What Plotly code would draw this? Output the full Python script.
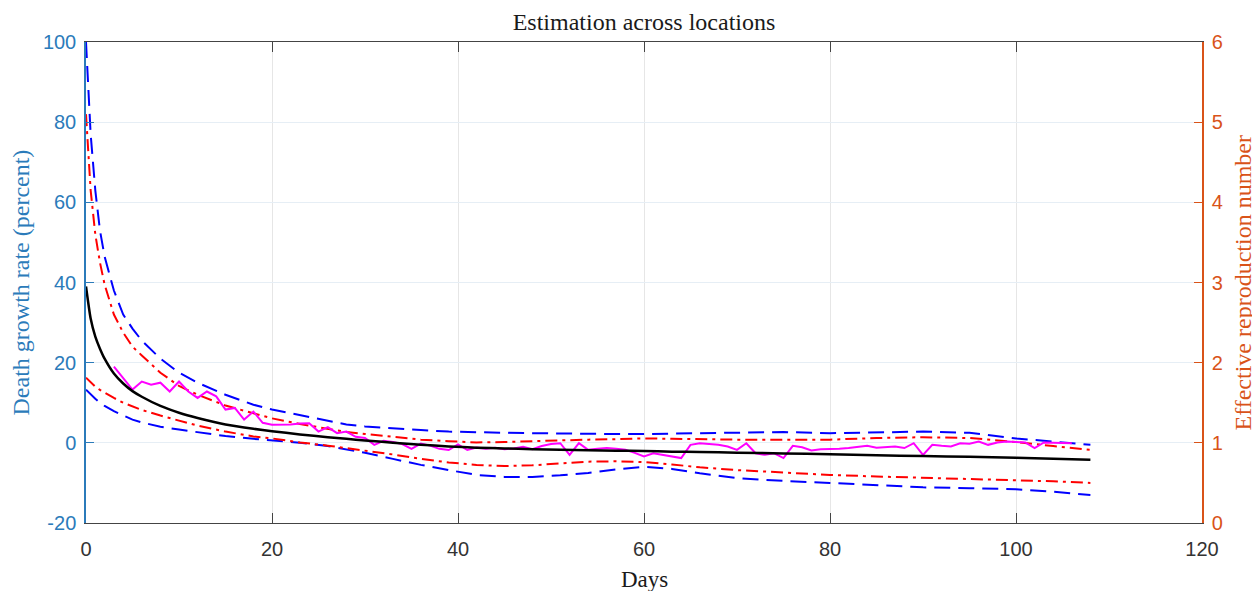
import plotly.graph_objects as go

# ---- data ----
days = [0, 0.5, 1, 1.5, 2, 3, 4, 5, 6, 8, 10, 12, 15, 18, 20, 23, 26, 28, 30, 33, 36, 39,
        42, 45, 48, 51, 54, 57, 60, 63, 66, 70, 75, 80, 85, 90, 95, 100, 104, 108]

blue_upper = [100, 77, 63, 53, 46.5, 38, 32, 28.5, 25.5, 21, 17.5, 15, 12, 9.5, 8.3, 6.9, 5.4, 4.6,
              4.1, 3.6, 3.2, 2.8, 2.6, 2.5, 2.4, 2.3, 2.2, 2.2, 2.2, 2.3, 2.4, 2.6, 2.7, 2.4, 2.6,
              2.8, 2.5, 1.1, 0.3, -0.5]

red_upper = [82, 63, 52, 45, 39.5, 32, 27.5, 24, 21.8, 17.5, 14.2, 12, 9.3, 7.3, 6.1, 4.7, 3.5, 2.7,
             2.2, 1.5, 0.8, 0.4, 0.1, 0.2, 0.4, 0.7, 0.8, 0.9, 1.1, 1.0, 0.9, 0.8, 0.8, 0.8, 1.2,
             1.4, 1.2, 0.2, -0.8, -1.75]

black_mid = [39, 31, 26.5, 23.5, 21, 17.3, 14.8, 12.9, 11.5, 9.2, 7.5, 6.2, 4.6, 3.5, 2.9, 2.1, 1.4,
             1.0, 0.6, 0.05, -0.45, -0.9, -1.2, -1.4, -1.6, -1.75, -1.85, -1.95, -2.05, -2.2, -2.3,
             -2.45, -2.65, -2.85, -3.1, -3.3, -3.5, -3.75, -4.0, -4.25]

red_lower = [16.25, 15, 14, 13.2, 12.5, 11.2, 10, 9.1, 8.2, 6.8, 5.5, 4.3, 2.8, 1.6, 1.1, 0.1, -0.7,
             -1.3, -2, -2.9, -4, -4.9, -5.5, -5.8, -5.6, -5.1, -4.7, -4.6, -4.8, -5.4, -6.1, -6.8,
             -7.4, -8, -8.4, -8.7, -9, -9.3, -9.6, -10]

blue_lower = [13.25, 12, 11, 10, 9.2, 7.9, 6.8, 5.8, 5.1, 4, 3.3, 2.6, 1.7, 1.0, 0.6, 0, -0.8, -1.6,
              -2.5, -4.0, -5.5, -6.8, -8, -8.5, -8.5, -8.1, -7.5, -6.6, -6.0, -6.5, -7.6, -8.8,
              -9.5, -10, -10.6, -11.1, -11.3, -11.6, -12.2, -13]

obs_days = list(range(3, 107))
obs_rate = [19, 16, 13.3, 15.3, 14.5, 15, 12.8, 15.3, 12.8, 11.2, 12.8, 11.6, 8.3, 8.7, 5.8, 7.8,
            5, 4.5, 4.5, 4.6, 4.8, 4.9, 2.8, 3.9, 2.4, 2.8, 1.5, 1.2, -0.5, 0.5, 0.2, -0.3, -1.5,
            -0.2, -0.7, -1.5, -1.8, -0.4, -1.8, -1.2, -1.5, -1.2, -1.6, -1.4, -1.0, -1.6, -0.8,
            -0.3, -0.1, -3.0, -0.1, -1.75, -1.5, -1.3, -1.5, -1.75, -2.5, -3.4, -2.6, -3.0, -3.4,
            -3.8, -0.5, -0.1, -0.3, -0.5, -0.9, -1.75, -0.1, -2.6, -3.0, -2.6, -3.8, -0.75, -1.1,
            -1.9, -1.6, -1.6, -1.5, -1.3, -1.0, -0.75, -1.2, -1.0, -0.9, -1.3, -0.1, -3.0, -0.5,
            -0.75, -0.9, -0.1, -0.25, 0.33, -0.5, 0.1, 0.33, 0.2, 0.1, -1.3, 0.1, 0.0, -0.1, -0.1]

x_ticks = [0, 20, 40, 60, 80, 100, 120]
left_ticks = [-20, 0, 20, 40, 60, 80, 100]
left_tick_text = ["-20", "0", "20", "40", "60", "80", "100"]
right_ticks = [0, 1, 2, 3, 4, 5, 6]

# ---- styling ----
BLUE_AX = "#2b7bba"
ORANGE_AX = "#d95319"
SERIF = "Liberation Serif, DejaVu Serif, serif"
SANS = "Liberation Sans, Arial, sans-serif"

fig = go.Figure()
fig.add_trace(go.Scatter(x=days, y=blue_upper, mode="lines",
                         line=dict(color="#0000ff", width=2, dash="16px,8px")))
fig.add_trace(go.Scatter(x=days, y=blue_lower, mode="lines",
                         line=dict(color="#0000ff", width=2, dash="16px,8px")))
fig.add_trace(go.Scatter(x=days, y=red_upper, mode="lines",
                         line=dict(color="#ff0000", width=2, dash="12px,5px,3px,5px")))
fig.add_trace(go.Scatter(x=days, y=red_lower, mode="lines",
                         line=dict(color="#ff0000", width=2, dash="12px,5px,3px,5px")))
fig.add_trace(go.Scatter(x=obs_days, y=obs_rate, mode="lines",
                         line=dict(color="#ff00ff", width=2)))
fig.add_trace(go.Scatter(x=days, y=black_mid, mode="lines",
                         line=dict(color="#000000", width=2.5, shape="spline", smoothing=0.5)))
fig.add_trace(go.Scatter(x=[None], y=[None], yaxis="y2", mode="lines", showlegend=False))

# page body adds an 8px offset, so the figure is sized to fit the 1260x591 window
OFF = 8
W, H = 1260 - OFF, 591 - OFF
L, T = 86 - OFF, 42 - OFF
pw, ph = 1116, 481
R = W - L - pw
B = H - T - ph

fig.update_layout(
    width=W, height=H,
    margin=dict(l=L, r=R, t=T, b=B, autoexpand=False),
    plot_bgcolor="white", paper_bgcolor="white",
    showlegend=False,
    title=dict(text="Estimation across locations", x=0.5, xref="paper",
               y=1 - (22 - OFF) / H, yref="container", yanchor="middle", xanchor="center",
               font=dict(family=SERIF, size=24, color="#1a1a1a")),
    xaxis=dict(range=[0, 120], tickvals=x_ticks, ticks="inside", ticklen=10,
               tickcolor="#444", showgrid=True, gridcolor="#e6e6e6", gridwidth=1,
               showline=True, linecolor="#444", linewidth=1.2, mirror="ticks",
               zeroline=False, ticklabelstandoff=8,
               tickfont=dict(family=SANS, size=20, color="#333")),
    yaxis=dict(range=[-20, 100], tickvals=left_ticks, ticktext=left_tick_text,
               ticks="inside", ticklen=8, ticklabelstandoff=4,
               tickcolor=BLUE_AX, showgrid=True, gridcolor="#e6eef5", gridwidth=1,
               showline=True, linecolor=BLUE_AX, linewidth=1.5, zeroline=False,
               tickfont=dict(family=SANS, size=20, color=BLUE_AX)),
    yaxis2=dict(range=[0, 6], tickvals=right_ticks, overlaying="y", side="right",
                ticks="inside", ticklen=8, tickcolor=ORANGE_AX, showgrid=False,
                showline=True, linecolor=ORANGE_AX, linewidth=1.5, zeroline=False,
                ticklabelstandoff=4,
                tickfont=dict(family=SANS, size=20, color=ORANGE_AX)),
    annotations=[
        dict(text="Death growth rate (percent)", xref="paper", yref="paper",
             x=(20 - 86) / pw, y=0.5, textangle=-90, showarrow=False,
             xanchor="center", yanchor="middle",
             font=dict(family=SERIF, size=24, color=BLUE_AX)),
        dict(text="Effective reproduction number", xref="paper", yref="paper",
             x=(1242 - 86) / pw, y=0.5, textangle=-90, showarrow=False,
             xanchor="center", yanchor="middle",
             font=dict(family=SERIF, size=24, color=ORANGE_AX)),
        dict(text="Days", xref="paper", yref="paper",
             x=0.5, y=-(579 - 523) / ph, showarrow=False,
             xanchor="center", yanchor="middle",
             font=dict(family=SERIF, size=23, color="#1a1a1a")),
    ],
)

fig.write_html("out.html")
